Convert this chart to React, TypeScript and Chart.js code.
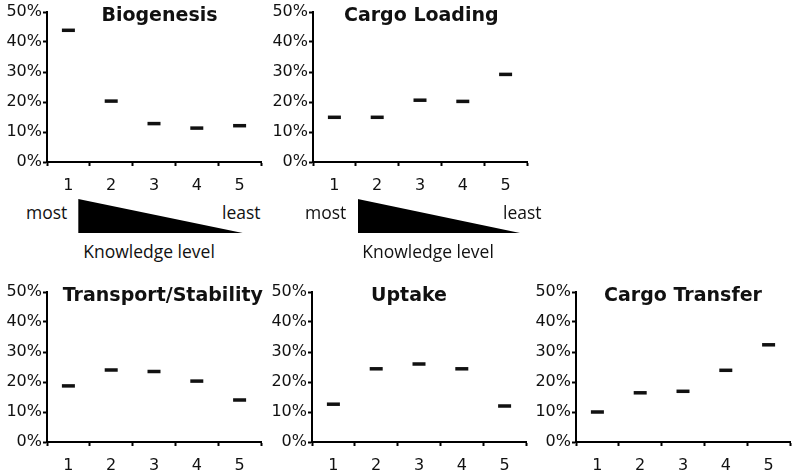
import { useEffect, useRef } from "react";
import { Chart, registerables } from "chart.js";

Chart.register(...registerables);

// knowledge level 1 (most) .. 5 (least)
const levels = ["1", "2", "3", "4", "5"];

// share of answers, in percent
const biogenesis = [43.9, 20.3, 12.8, 11.3, 12.1];
const cargoLoading = [14.9, 14.9, 20.6, 20.2, 29.2];
const transportStability = [18.7, 24.0, 23.5, 20.3, 14.0];
const uptake = [12.6, 24.4, 26.0, 24.4, 12.0];
const cargoTransfer = [10.0, 16.4, 16.9, 23.9, 32.4];

const yMax = 50;
const yStep = 10;

const TICK_FONT = { family: "DejaVu Sans", size: 16 };
const CANVAS_W = 270;
const Y_AXIS_W = 46;
const PAD_TOP = 12;
const PLOT_H = 150;

interface PanelProps {
    title: string;
    values: number[];
    left: number; // page x of the y axis
    right: number; // page x of the plot's right edge
    top: number; // page y of the canvas
    height: number; // canvas height
    titleX: number; // page x of the title's centre
}

function Panel(props: PanelProps) {
    const canvasRef: any = useRef(null);
    const canvasLeft = props.left - Y_AXIS_W;

    useEffect(() => {
        if (!canvasRef?.current) return;
        const plotW = props.right - props.left;
        const xAxisH = props.height - PAD_TOP - PLOT_H;

        const titlePlugin = {
            id: "panelTitle",
            afterDraw: (chart: any) => {
                const ctx = chart.ctx;
                ctx.save();
                ctx.font = "bold 19px 'DejaVu Sans'";
                ctx.fillStyle = "#111";
                ctx.textAlign = "center";
                ctx.textBaseline = "alphabetic";
                ctx.fillText(props.title, props.titleX - canvasLeft, chart.chartArea.top + 8.8);
                ctx.restore();
            },
        };

        const chart = new Chart(canvasRef.current.getContext("2d"), {
            type: "line",
            data: {
                labels: levels,
                datasets: [
                    {
                        data: props.values,
                        showLine: false,
                        pointStyle: "line",
                        pointRadius: 6.5,
                        pointHoverRadius: 6.5,
                        pointBorderWidth: 3.5,
                        pointHoverBorderWidth: 3.5,
                        pointBorderColor: "#111",
                        pointBackgroundColor: "#111",
                    },
                ],
            },
            options: {
                responsive: false,
                animation: false,
                events: [],
                layout: {
                    padding: { top: PAD_TOP, left: 0, bottom: 0, right: CANVAS_W - Y_AXIS_W - plotW },
                },
                plugins: {
                    legend: { display: false },
                    tooltip: { enabled: false },
                },
                scales: {
                    x: {
                        type: "category",
                        offset: true,
                        grid: {
                            offset: true,
                            drawOnChartArea: false,
                            drawTicks: true,
                            tickLength: 4,
                            tickWidth: 2,
                            tickColor: "#000",
                        },
                        border: { display: true, color: "#000", width: 2 },
                        ticks: { color: "#111", font: TICK_FONT, padding: 10, maxRotation: 0 },
                        afterFit: (scale: any) => {
                            scale.height = xAxisH;
                        },
                    },
                    y: {
                        min: 0,
                        max: yMax,
                        grid: {
                            drawOnChartArea: false,
                            drawTicks: true,
                            tickLength: 4,
                            tickWidth: 2,
                            tickColor: "#000",
                        },
                        border: { display: true, color: "#000", width: 2 },
                        ticks: {
                            stepSize: yStep,
                            color: "#111",
                            font: TICK_FONT,
                            padding: 1,
                            callback: (v: any) => v + "%",
                        },
                        afterFit: (scale: any) => {
                            scale.width = Y_AXIS_W;
                        },
                    },
                },
            },
            plugins: [titlePlugin],
        } as any);

        return () => {
            chart.destroy();
        };
    }, []);

    return (
        <canvas
            ref={canvasRef}
            width={CANVAS_W}
            height={props.height}
            style={{
                position: "absolute",
                left: canvasLeft,
                top: props.top,
                width: CANVAS_W,
                height: props.height,
            }}
        />
    );
}

const textStyle: any = {
    position: "absolute",
    fontFamily: "'Open Sans'",
    fontSize: 17.5,
    lineHeight: "20px",
    color: "#111",
    whiteSpace: "nowrap",
};

function KnowledgeScale({ dx, tri }: { dx: number; tri: [number, number] }) {
    return (
        <>
            <div style={{ ...textStyle, left: 26 + dx, top: 201.5 }}>most</div>
            <div style={{ ...textStyle, left: 222 + dx + (dx ? 2 : 0), top: 201.5 }}>least</div>
            <div
                style={{
                    position: "absolute",
                    left: tri[0],
                    top: 199,
                    width: tri[1] - tri[0],
                    height: 34,
                    background: "#000",
                    clipPath: "polygon(0 0, 0 100%, 100% 100%)",
                }}
            />
            <div style={{ ...textStyle, left: 49 + dx, width: 200, textAlign: "center", top: 240.5 }}>
                Knowledge level
            </div>
        </>
    );
}

export default function App() {
    return (
        <div
            style={{
                position: "absolute",
                left: 0,
                top: 0,
                width: 800,
                height: 471,
                background: "#fff",
                overflow: "hidden",
            }}
        >
            <Panel title="Biogenesis" values={biogenesis} left={46.5} right={267} top={0} height={196} titleX={159} />
            <Panel title="Cargo Loading" values={cargoLoading} left={312.7} right={535} top={0} height={196} titleX={421} />
            <Panel
                title="Transport/Stability"
                values={transportStability}
                left={46.7}
                right={266.7}
                top={280}
                height={191}
                titleX={162.5}
            />
            <Panel title="Uptake" values={uptake} left={312} right={531} top={280} height={191} titleX={409} />
            <Panel title="Cargo Transfer" values={cargoTransfer} left={576} right={796} top={280} height={191} titleX={683} />
            <KnowledgeScale dx={0} tri={[78.3, 242.7]} />
            <KnowledgeScale dx={279} tri={[357.7, 520]} />
        </div>
    );
}
